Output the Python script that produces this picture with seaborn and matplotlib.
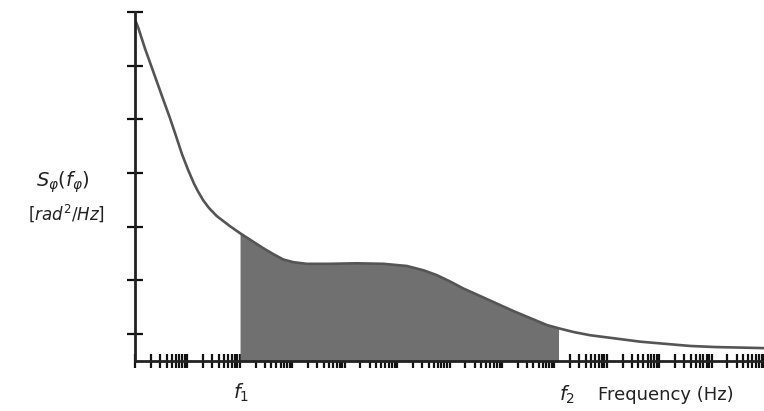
import numpy as np
import pandas as pd
import matplotlib
matplotlib.use('Agg')
import matplotlib.pyplot as plt
from matplotlib.ticker import LogLocator, NullFormatter, FixedLocator
import seaborn as sns

# phase noise spectral density (arbitrary units)
freq_hz = [1.05, 1.16, 1.55, 2.23, 3.23, 4.66, 6.06, 7.89, 10.3, 13.4, 15.9,
           20.1, 25.8, 36.2, 65.0, 101, 181, 281, 436, 676, 1050, 1888, 5265,
           17020, 54800, 1.53e5, 3.18e5, 5.71e5, 1.03e6, 1.84e6, 3.84e6, 7.98e6,
           1.66e7, 3.45e7, 7.19e7, 1.2e8, 2.32e8, 4.82e8, 1.45e9, 4.34e9,
           1.3e10, 3.9e10, 1.17e11, 3.5e11, 1.0e12]
s_phi = [6.31, 6.20, 5.82, 5.39, 4.95, 4.52, 4.19, 3.85, 3.56, 3.30, 3.16,
         2.99, 2.85, 2.70, 2.51, 2.38, 2.22, 2.10, 1.99, 1.89, 1.84, 1.81, 1.81,
         1.82, 1.81, 1.77, 1.69, 1.60, 1.48, 1.35, 1.21, 1.07,
         0.93, 0.80, 0.67, 0.61, 0.54, 0.48, 0.42, 0.36,
         0.32, 0.28, 0.26, 0.25, 0.24]
f1 = 101
f2 = 1.2e8
y_ticks = [0.5, 1.5, 2.5, 3.5, 4.5, 5.5, 6.5]

df = pd.DataFrame({'Frequency': freq_hz, 'S': s_phi})
band = df[(df['Frequency'] >= f1) & (df['Frequency'] <= f2)]

sns.set_style('white')
plt.rcParams['font.family'] = ['DejaVu Sans']
plt.rcParams['mathtext.fontset'] = 'dejavusans'

fig = plt.figure(figsize=(7.64, 4.11), dpi=100)
ax = fig.add_axes([135 / 764, 1 - 361 / 411, 1 - 135 / 764, (361 - 12) / 411])

ax.fill_between(band['Frequency'], 0, band['S'], color='#707070', linewidth=0, zorder=1)
sns.lineplot(data=df, x='Frequency', y='S', color='#555555', linewidth=1.9, ax=ax, zorder=2)

ax.set_xscale('log')
ax.set_xlim(1, 1e12)
ax.set_ylim(0, 6.5)

ax.xaxis.set_major_locator(LogLocator(base=10, numticks=20))
ax.xaxis.set_minor_locator(LogLocator(base=10, subs=np.arange(2, 10), numticks=200))
ax.xaxis.set_major_formatter(NullFormatter())
ax.xaxis.set_minor_formatter(NullFormatter())
ax.yaxis.set_major_locator(FixedLocator(y_ticks))
ax.set_yticklabels([])

ax.tick_params(axis='x', which='both', direction='inout', length=10, width=1.6,
               color='#111111', bottom=True)
ax.tick_params(axis='y', which='major', direction='inout', length=12, width=1.6,
               color='#111111', left=True)

for side in ['top', 'right']:
    ax.spines[side].set_visible(False)
for side in ['left', 'bottom']:
    ax.spines[side].set_color('#222222')
    ax.spines[side].set_linewidth(2)
ax.set_xlabel('')
ax.set_ylabel('')

# labels
fig.text(63 / 764, 1 - 182 / 411, r'$S_{\varphi}(f_{\varphi})$', fontsize=14,
         ha='center', va='center', color='#222222')
fig.text(66 / 764, 1 - 213 / 411, r'$[rad^2/Hz]$', fontsize=12,
         ha='center', va='center', color='#222222')
fig.text(241 / 764, 1 - 393 / 411, r'$f_1$', fontsize=14,
         ha='center', va='center', color='#222222')
fig.text(567 / 764, 1 - 395 / 411, r'$f_2$', fontsize=14,
         ha='center', va='center', color='#222222')
fig.text(598 / 764, 1 - 395 / 411, 'Frequency (Hz)', fontsize=13,
         ha='left', va='center', color='#222222')

fig.savefig('out.png', dpi=100)
